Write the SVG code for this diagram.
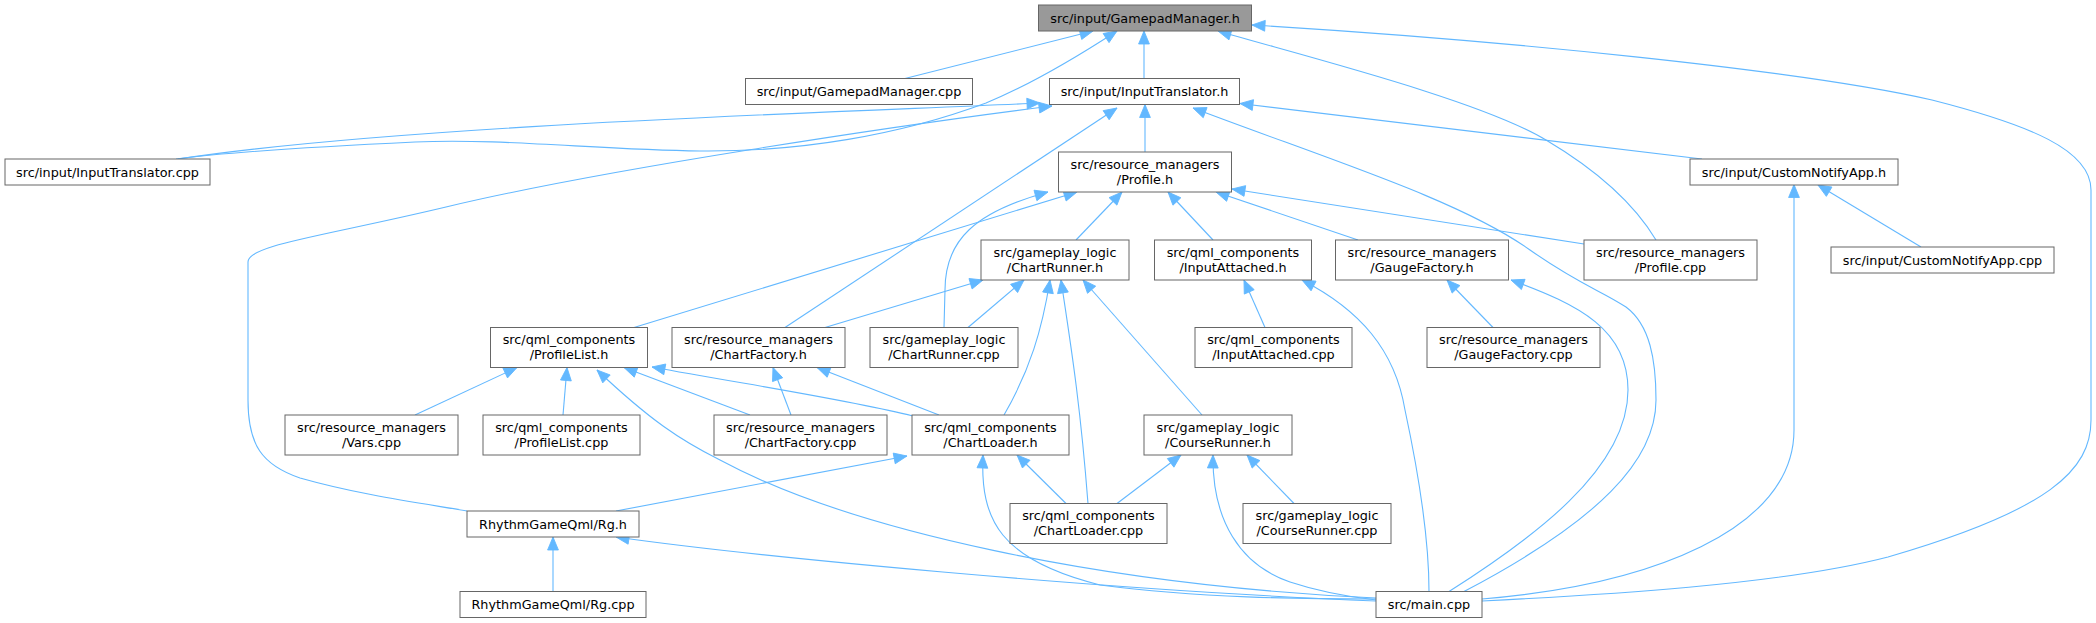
<svg xmlns="http://www.w3.org/2000/svg" width="2096" height="623" viewBox="0 0 2096 623">
<style>
.n rect{fill:#fff;stroke:#666;stroke-width:1}
.n.root rect{fill:#999}
.n text{font-family:"DejaVu Sans","Liberation Sans",sans-serif;font-size:12.8px;fill:#000;text-anchor:middle}
.e path{fill:none;stroke:#63b8ff;stroke-width:1.1;marker-start:url(#a)}
</style>
<defs>
<marker id="a" markerUnits="userSpaceOnUse" markerWidth="13" markerHeight="11" viewBox="0 0 12 10" refX="12" refY="5" orient="auto-start-reverse" overflow="visible">
<path d="M0,0L12,5L0,10z" fill="#63b8ff" stroke="#63b8ff" stroke-width="0.8"/>
</marker>
</defs>
<rect width="2096" height="623" fill="#fff"/>
<g class="e" id="edges">
<path d="M1093,31 L905,78.5"/>
<path d="M1117,31 C1080,55 1030,85 986,103 C900,135 800,152 700,151 C600,150 500,138 415,142 C330,146 230,152 176,159"/>
<path d="M1144,31 L1144,78.5"/>
<path d="M1218,31 C1300,55 1480,100 1546,140 C1600,172 1635,205 1656,240"/>
<path d="M1252,25 C1500,40 1800,70 1932,100 C2030,125 2091,150 2091,190 L2091,420 C2091,470 2050,510 1888,557 C1780,585 1600,595 1482,601"/>
<path d="M1040,103 C850,112 400,125 178,159"/>
<path d="M1052,106 C900,125 600,170 446,207 C320,237 248,245 248,262 L248,400 C248,445 262,465 300,478 C360,495 420,503 467,511"/>
<path d="M1145,104.5 L1145,152"/>
<path d="M1117,108 L785,327.5"/>
<path d="M1193,108 C1330,160 1460,200 1530,250 C1580,285 1600,290 1626,307 C1650,325 1656,360 1656,400 C1656,460 1600,520 1464,591.5"/>
<path d="M1240,103.5 L1702,159"/>
<path d="M1077,192 L634,327.5"/>
<path d="M1048,192 C975,212 945,240 945,290 L944,327.5"/>
<path d="M1122,192 L1076,240"/>
<path d="M1168,192 L1213,240"/>
<path d="M1216,192 L1358,240"/>
<path d="M1232,189 L1584,244"/>
<path d="M983,280 L825,327.5"/>
<path d="M1024,280 L968,327.5"/>
<path d="M1050,280 C1042,330 1030,370 1004,415"/>
<path d="M1061,280 C1070,340 1080,400 1088,503.5"/>
<path d="M1083,280 L1202,415"/>
<path d="M1244,280 L1265,327.5"/>
<path d="M1302,280 C1360,310 1395,350 1405,410 C1420,480 1429,540 1429,591.5"/>
<path d="M1447,280 L1493,327.5"/>
<path d="M1511,280 C1580,305 1628,330 1628,390 C1628,470 1530,540 1449,591.5"/>
<path d="M1818,185 L1921,247"/>
<path d="M1794,184.5 L1794,430 C1794,530 1650,585 1482,599"/>
<path d="M517,367.5 L415,415"/>
<path d="M567,367.5 L563,415"/>
<path d="M624,367.5 L750,415"/>
<path d="M652,367 C750,385 850,400 913,416"/>
<path d="M597,370 C650,420 680,440 720,460 C850,530 1100,585 1376,598"/>
<path d="M773,367.5 L791,415"/>
<path d="M817,367.5 L939,415"/>
<path d="M907,456 L616,511"/>
<path d="M1017,455 L1066,503.5"/>
<path d="M983,455 C980,520 1000,560 1100,585 C1200,598 1300,599 1376,599"/>
<path d="M1181,455 L1117,503.5"/>
<path d="M1247,455 L1294,503.5"/>
<path d="M1213,455 C1212,520 1240,565 1290,582 C1320,592 1350,597 1376,600"/>
<path d="M553,537 L553,591.5"/>
<path d="M616,537 C750,556 1100,590 1376,601"/>
</g>
<g class="n root" id="GamepadManager_h"><rect x="1038.5" y="5" width="213" height="26"/><text x="1145" y="22.5">src/input/GamepadManager.h</text></g>
<g class="n" id="GamepadManager_cpp"><rect x="745.5" y="78.5" width="227" height="26"/><text x="859" y="96">src/input/GamepadManager.cpp</text></g>
<g class="n" id="InputTranslator_h"><rect x="1049.5" y="78.5" width="190" height="26"/><text x="1144.5" y="96">src/input/InputTranslator.h</text></g>
<g class="n" id="InputTranslator_cpp"><rect x="5" y="159" width="205" height="26"/><text x="107.5" y="176.5">src/input/InputTranslator.cpp</text></g>
<g class="n" id="Profile_h"><rect x="1058.5" y="152" width="173" height="40"/><text x="1145" y="168.5">src/resource_managers</text><text x="1145" y="183.5">/Profile.h</text></g>
<g class="n" id="CustomNotifyApp_h"><rect x="1690" y="159" width="208" height="26"/><text x="1794" y="176.5">src/input/CustomNotifyApp.h</text></g>
<g class="n" id="ChartRunner_h"><rect x="981" y="240" width="148" height="40"/><text x="1055" y="256.5">src/gameplay_logic</text><text x="1055" y="271.5">/ChartRunner.h</text></g>
<g class="n" id="InputAttached_h"><rect x="1154.5" y="240" width="157" height="40"/><text x="1233" y="256.5">src/qml_components</text><text x="1233" y="271.5">/InputAttached.h</text></g>
<g class="n" id="GaugeFactory_h"><rect x="1335.5" y="240" width="173" height="40"/><text x="1422" y="256.5">src/resource_managers</text><text x="1422" y="271.5">/GaugeFactory.h</text></g>
<g class="n" id="Profile_cpp"><rect x="1584" y="240" width="173" height="40"/><text x="1670.5" y="256.5">src/resource_managers</text><text x="1670.5" y="271.5">/Profile.cpp</text></g>
<g class="n" id="CustomNotifyApp_cpp"><rect x="1831" y="247" width="223" height="26"/><text x="1942.5" y="264.5">src/input/CustomNotifyApp.cpp</text></g>
<g class="n" id="ProfileList_h"><rect x="490.5" y="327.5" width="157" height="40"/><text x="569" y="344">src/qml_components</text><text x="569" y="359">/ProfileList.h</text></g>
<g class="n" id="ChartFactory_h"><rect x="672" y="327.5" width="173" height="40"/><text x="758.5" y="344">src/resource_managers</text><text x="758.5" y="359">/ChartFactory.h</text></g>
<g class="n" id="ChartRunner_cpp"><rect x="870" y="327.5" width="148" height="40"/><text x="944" y="344">src/gameplay_logic</text><text x="944" y="359">/ChartRunner.cpp</text></g>
<g class="n" id="InputAttached_cpp"><rect x="1195" y="327.5" width="157" height="40"/><text x="1273.5" y="344">src/qml_components</text><text x="1273.5" y="359">/InputAttached.cpp</text></g>
<g class="n" id="GaugeFactory_cpp"><rect x="1427" y="327.5" width="173" height="40"/><text x="1513.5" y="344">src/resource_managers</text><text x="1513.5" y="359">/GaugeFactory.cpp</text></g>
<g class="n" id="Vars_cpp"><rect x="285" y="415" width="173" height="40"/><text x="371.5" y="431.5">src/resource_managers</text><text x="371.5" y="446.5">/Vars.cpp</text></g>
<g class="n" id="ProfileList_cpp"><rect x="483" y="415" width="157" height="40"/><text x="561.5" y="431.5">src/qml_components</text><text x="561.5" y="446.5">/ProfileList.cpp</text></g>
<g class="n" id="ChartFactory_cpp"><rect x="714" y="415" width="173" height="40"/><text x="800.5" y="431.5">src/resource_managers</text><text x="800.5" y="446.5">/ChartFactory.cpp</text></g>
<g class="n" id="ChartLoader_h"><rect x="912" y="415" width="157" height="40"/><text x="990.5" y="431.5">src/qml_components</text><text x="990.5" y="446.5">/ChartLoader.h</text></g>
<g class="n" id="CourseRunner_h"><rect x="1144" y="415" width="148" height="40"/><text x="1218" y="431.5">src/gameplay_logic</text><text x="1218" y="446.5">/CourseRunner.h</text></g>
<g class="n" id="ChartLoader_cpp"><rect x="1010" y="503.5" width="157" height="40"/><text x="1088.5" y="520">src/qml_components</text><text x="1088.5" y="535">/ChartLoader.cpp</text></g>
<g class="n" id="CourseRunner_cpp"><rect x="1243" y="503.5" width="148" height="40"/><text x="1317" y="520">src/gameplay_logic</text><text x="1317" y="535">/CourseRunner.cpp</text></g>
<g class="n" id="Rg_h"><rect x="467" y="511" width="172" height="26"/><text x="553" y="528.5">RhythmGameQml/Rg.h</text></g>
<g class="n" id="Rg_cpp"><rect x="460" y="591.5" width="186" height="26"/><text x="553" y="609">RhythmGameQml/Rg.cpp</text></g>
<g class="n" id="main_cpp"><rect x="1376" y="591.5" width="106" height="26"/><text x="1429" y="609">src/main.cpp</text></g>
</svg>
